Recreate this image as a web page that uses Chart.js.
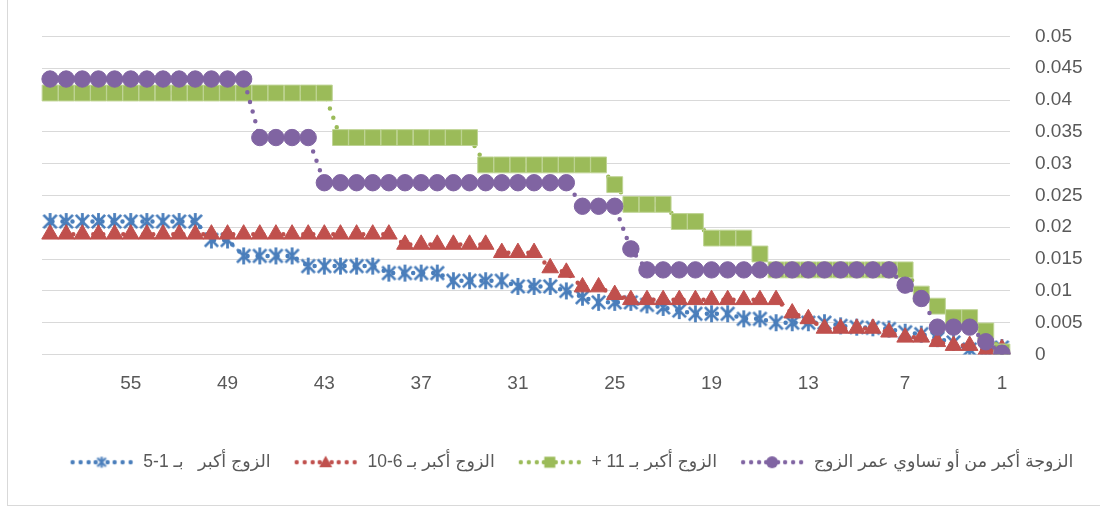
<!DOCTYPE html>
<html>
<head>
<meta charset="utf-8">
<script src="https://cdn.jsdelivr.net/npm/chart.js@4"></script>
<style>
  body { margin: 0; background: #fff; }
  #wrap { position: relative; width: 1100px; height: 510px; }
  #chart { display: block; }
  #frame {
    position: absolute; left: 7px; top: 0; width: 1093px; height: 506px;
    border-left: 1px solid #d9d9d9; border-bottom: 1px solid #d9d9d9;
    box-sizing: border-box; pointer-events: none;
  }
</style>
</head>
<body>
<div id="wrap">
  <canvas id="chart" width="1100" height="510"></canvas>
  <div id="frame"></div>
</div>
<script>
// categories 1..60 (axis is drawn reversed, 1 on the right)
const ageGaps = [
  1, 2, 3, 4, 5, 6, 7, 8, 9, 10,
  11, 12, 13, 14, 15, 16, 17, 18, 19, 20,
  21, 22, 23, 24, 25, 26, 27, 28, 29, 30,
  31, 32, 33, 34, 35, 36, 37, 38, 39, 40,
  41, 42, 43, 44, 45, 46, 47, 48, 49, 50,
  51, 52, 53, 54, 55, 56, 57, 58, 59, 60
];
const shownTicks = [1, 7, 13, 19, 25, 31, 37, 43, 49, 55];

// \u200F keeps the trailing "+" inside the right-to-left run
const seriesNames = [
  "الزوجة أكبر من أو تساوي عمر الزوج",
  "الزوج أكبر بـ 11 +\u200F",
  "الزوج أكبر بـ 6-10",
  "الزوج أكبر   بـ 1-5"
];

const wifeOlderOrEqual = [
  0.0002, 0.002, 0.0043, 0.0043, 0.0043, 0.0088, 0.0109, 0.0133, 0.0133, 0.0133,
  0.0133, 0.0133, 0.0133, 0.0133, 0.0133, 0.0133, 0.0133, 0.0133, 0.0133, 0.0133,
  0.0133, 0.0133, 0.0133, 0.0166, 0.0233, 0.0233, 0.0233, 0.027, 0.027, 0.027,
  0.027, 0.027, 0.027, 0.027, 0.027, 0.027, 0.027, 0.027, 0.027, 0.027,
  0.027, 0.027, 0.027, 0.0341, 0.0341, 0.0341, 0.0341, 0.0433, 0.0433, 0.0433,
  0.0433, 0.0433, 0.0433, 0.0433, 0.0433, 0.0433, 0.0433, 0.0433, 0.0433, 0.0433
];
const husband11Plus = [
  0.0004, 0.0037, 0.0058, 0.0058, 0.0076, 0.0095, 0.0133, 0.0133, 0.0133, 0.0133,
  0.0133, 0.0133, 0.0133, 0.0133, 0.0133, 0.0158, 0.0183, 0.0183, 0.0183, 0.0209,
  0.0209, 0.0236, 0.0236, 0.0236, 0.0267, 0.0298, 0.0298, 0.0298, 0.0298, 0.0298,
  0.0298, 0.0298, 0.0298, 0.0341, 0.0341, 0.0341, 0.0341, 0.0341, 0.0341, 0.0341,
  0.0341, 0.0341, 0.0411, 0.0411, 0.0411, 0.0411, 0.0411, 0.0411, 0.0411, 0.0411,
  0.0411, 0.0411, 0.0411, 0.0411, 0.0411, 0.0411, 0.0411, 0.0411, 0.0411, 0.0411
];
const husband6to10 = [
  0.0009, 0.0006, 0.0014, 0.0014, 0.002, 0.0027, 0.0027, 0.0035, 0.0041, 0.0041,
  0.0041, 0.0041, 0.0056, 0.0065, 0.0086, 0.0086, 0.0086, 0.0086, 0.0086, 0.0086,
  0.0086, 0.0086, 0.0086, 0.0086, 0.0094, 0.0106, 0.0106, 0.0129, 0.0136, 0.016,
  0.016, 0.016, 0.0173, 0.0173, 0.0173, 0.0173, 0.0173, 0.0173, 0.0189, 0.0189,
  0.0189, 0.0189, 0.0189, 0.0189, 0.0189, 0.0189, 0.0189, 0.0189, 0.0189, 0.0189,
  0.0189, 0.0189, 0.0189, 0.0189, 0.0189, 0.0189, 0.0189, 0.0189, 0.0189, 0.0189
];
const husband1to5 = [
  0.0011, 0.0006, 0.0008, 0.0019, 0.0025, 0.0032, 0.0035, 0.004, 0.0042, 0.0043,
  0.0045, 0.005, 0.005, 0.005, 0.005, 0.0056, 0.0056, 0.0064, 0.0064, 0.0064,
  0.0069, 0.0074, 0.0078, 0.0082, 0.0082, 0.0082, 0.009, 0.01, 0.0107, 0.0107,
  0.0107, 0.0116, 0.0116, 0.0116, 0.0116, 0.0128, 0.0128, 0.0128, 0.0128, 0.0139,
  0.0139, 0.0139, 0.0139, 0.0139, 0.0155, 0.0155, 0.0155, 0.0155, 0.018, 0.018,
  0.0209, 0.0209, 0.0209, 0.0209, 0.0209, 0.0209, 0.0209, 0.0209, 0.0209, 0.0209
];

const colors = ["#8064a2", "#9bbb59", "#c0504d", "#4a7ebb"];
const markerEdges = ["#8064a2", "#bfd495", "#c0504d", "#4a7ebb"];
const textColor = "#595959";

// asterisk marker (X plus vertical bar)
function makeAsterisk(size, color, lw) {
  const c = document.createElement("canvas");
  c.width = size; c.height = size;
  const g = c.getContext("2d");
  const m = size / 2, r = size / 2 - 1;
  g.strokeStyle = color;
  g.lineWidth = lw;
  g.beginPath();
  g.moveTo(m, m - r); g.lineTo(m, m + r);
  const d = r * 0.78;
  g.moveTo(m - d, m - d); g.lineTo(m + d, m + d);
  g.moveTo(m + d, m - d); g.lineTo(m - d, m + d);
  g.stroke();
  return c;
}

// legend icon: dotted line with the marker in the middle
function legendIcon(color, shape) {
  const c = document.createElement("canvas");
  c.width = 66; c.height = 16;
  const g = c.getContext("2d");
  g.fillStyle = color;
  [4, 12, 20, 27, 39, 46, 54, 62].forEach(x => {
    g.beginPath(); g.arc(x, 8, 2.2, 0, Math.PI * 2); g.fill();
  });
  const cx = 33, cy = 8;
  g.beginPath();
  if (shape === "circle") {
    g.arc(cx, cy, 6, 0, Math.PI * 2); g.fill();
  } else if (shape === "rect") {
    g.fillRect(cx - 5.5, cy - 5.5, 11, 11);
  } else if (shape === "triangle") {
    g.moveTo(cx, cy - 6.5); g.lineTo(cx + 6.5, cy + 5); g.lineTo(cx - 6.5, cy + 5); g.closePath(); g.fill();
  } else {
    g.drawImage(makeAsterisk(13, color, 2.2), cx - 6.5, cy - 6.5);
  }
  return c;
}

const legendIcons = [
  legendIcon(colors[0], "circle"),
  legendIcon(colors[1], "rect"),
  legendIcon(colors[2], "triangle"),
  legendIcon(colors[3], "star")
];

function series(label, data, i, style, radius) {
  return {
    label: label,
    data: data,
    borderColor: colors[i],
    backgroundColor: colors[i],
    borderWidth: 4.5,
    borderDash: [0, 10],
    borderCapStyle: "round",
    tension: 0,
    pointStyle: style,
    pointRadius: radius,
    pointBackgroundColor: colors[i],
    pointBorderColor: markerEdges[i],
    pointBorderWidth: 1
  };
}

new Chart(document.getElementById("chart"), {
  type: "line",
  data: {
    labels: ageGaps,
    datasets: [
      series(seriesNames[0], wifeOlderOrEqual, 0, "circle", 8.2),
      series(seriesNames[1], husband11Plus, 1, "rect", 11.2),
      series(seriesNames[2], husband6to10, 2, "triangle", 9.6),
      series(seriesNames[3], husband1to5, 3, makeAsterisk(19, colors[3], 2.8), 9)
    ]
  },
  options: {
    responsive: false,
    devicePixelRatio: 1,
    animation: false,
    layout: { padding: { left: 42, top: 34, right: 0, bottom: 29 } },
    plugins: {
      tooltip: { enabled: false },
      legend: {
        position: "bottom",
        reverse: true,
        labels: {
          usePointStyle: true,
          pointStyleWidth: 66,
          padding: 22,
          color: textColor,
          font: { family: "'Liberation Sans', 'DejaVu Sans', sans-serif", size: 17.5 },
          generateLabels(chart) {
            const items = Chart.defaults.plugins.legend.labels.generateLabels(chart);
            items.forEach(it => { it.pointStyle = legendIcons[it.datasetIndex]; });
            return items;
          }
        }
      }
    },
    scales: {
      x: {
        reverse: true,
        offset: true,
        grid: { display: false, drawTicks: false },
        border: { display: true, color: "#d9d9d9" },
        ticks: {
          autoSkip: false,
          maxRotation: 0,
          minRotation: 0,
          padding: 18,
          color: textColor,
          font: { family: "'Liberation Sans', sans-serif", size: 19 },
          callback: function (value) {
            const lab = this.getLabelForValue(value);
            return shownTicks.includes(lab) ? String(lab) : "";
          }
        },
        afterFit(scale) { scale.height = 77; }
      },
      y: {
        position: "right",
        min: 0,
        max: 0.05,
        grid: { color: "#d9d9d9", drawTicks: false },
        border: { display: false },
        ticks: {
          stepSize: 0.005,
          padding: 25,
          color: textColor,
          font: { family: "'Liberation Sans', sans-serif", size: 19 },
          callback: v => +v.toFixed(3)
        },
        afterFit(scale) { scale.width = 90; }
      }
    }
  }
});
</script>
</body>
</html>
